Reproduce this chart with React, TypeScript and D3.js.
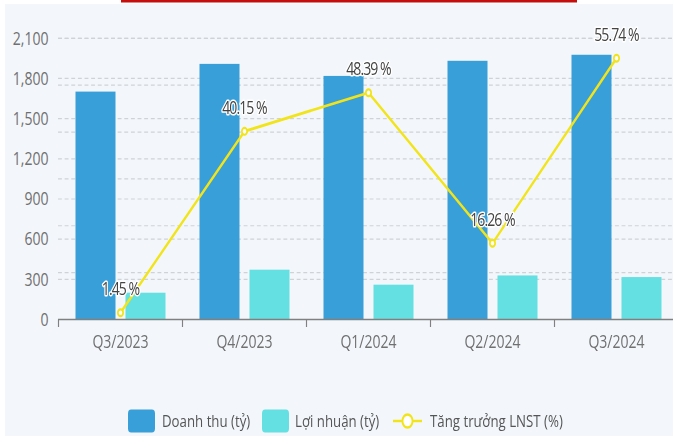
import React from "react";
import * as d3 from "d3";

const categories = ["Q3/2023", "Q4/2023", "Q1/2024", "Q2/2024", "Q3/2024"];
const revenue = [1702, 1909, 1819, 1932, 1977];
const profit = [200, 372, 260, 329, 317];
const growth = [1.45, 40.15, 48.39, 16.26, 55.74];
const leftTicks = [0, 300, 600, 900, 1200, 1500, 1800, 2100];
const rightTicks = [10, 20, 30, 40, 50, 60];
const legendLabels = ["Doanh thu (tỷ)", "Lợi nhuận (tỷ)", "Tăng trưởng LNST (%)"];

const W = 673;
const H = 436;
const S = 0.78; // horizontal squeeze of the original picture
const VW = W / S;
const vx = (x: number) => x / S;

const BLUE = "#389fd8";
const CYAN = "#64e0e2";
const YELLOW = "#f2e41a";
const BG = "#f3f7fb";
const FONT = "'Open Sans', sans-serif";

export default function App() {
  const x = d3.scaleBand<string>().domain(categories).range([vx(58.5), vx(678.5)]).padding(0);
  const inner = d3
    .scaleBand<string>()
    .domain(["rev", "profit"])
    .range([0, x.bandwidth()])
    .paddingInner(0.2)
    .paddingOuter(0.34);
  const y = d3.scaleLinear().domain([0, 2100]).range([319.5, 38.3]);
  const y2 = d3.scaleLinear().domain([0, 60]).range([319.5, 38.3]);

  const line = d3
    .line<number>()
    .x((_, i) => (x(categories[i]) as number) + x.bandwidth() / 2)
    .y((d) => y2(d));

  const gridX0 = vx(58);
  const gridX1 = VW;

  const legendItems = [
    { sw: vx(128), tx: vx(162), type: "rect", color: BLUE },
    { sw: vx(262), tx: vx(295), type: "rect", color: CYAN },
    { sw: vx(393), tx: vx(430), type: "line", color: YELLOW },
  ];

  return (
    <svg
      width={W}
      height={H}
      viewBox={`0 0 ${VW} ${H}`}
      preserveAspectRatio="none"
      style={{ position: "fixed", left: 0, top: 0, display: "block" }}
    >
      <rect x={0} y={0} width={VW} height={H} fill="#ffffff" />
      <rect x={vx(5)} y={4} width={VW} height={H} fill={BG} />
      <rect x={vx(121)} y={0} width={vx(577) - vx(121)} height={2.5} fill="#c40d0d" />

      {/* gridlines */}
      {leftTicks.slice(1).map((t) => (
        <line
          key={"g" + t}
          x1={gridX0}
          x2={gridX1}
          y1={y(t)}
          y2={y(t)}
          stroke="#cfd2d6"
          strokeWidth={1.2}
          strokeDasharray="5,3.5"
        />
      ))}
      {rightTicks.map((t) => (
        <line
          key={"g2" + t}
          x1={gridX0}
          x2={gridX1}
          y1={y2(t)}
          y2={y2(t)}
          stroke="#cfd2d6"
          strokeWidth={1.2}
          strokeDasharray="5,3.5"
        />
      ))}

      {/* y axis labels */}
      {leftTicks.map((t) => (
        <text
          key={"yl" + t}
          x={vx(48.5)}
          y={y(t)}
          dy="0.35em"
          textAnchor="end"
          fontFamily={FONT}
          fontSize={18}
          fill="#707070"
        >
          {d3.format(",")(t)}
        </text>
      ))}

      {/* bars */}
      {categories.map((c, i) => (
        <g key={"b" + c} transform={`translate(${x(c)},0)`}>
          <rect
            x={inner("rev")}
            y={y(revenue[i])}
            width={inner.bandwidth()}
            height={y(0) - y(revenue[i])}
            fill={BLUE}
          />
          <rect
            x={inner("profit")}
            y={y(profit[i])}
            width={inner.bandwidth()}
            height={y(0) - y(profit[i])}
            fill={CYAN}
          />
        </g>
      ))}

      {/* x axis */}
      <line x1={gridX0} x2={gridX1} y1={319.5} y2={319.5} stroke="#808080" strokeWidth={1.5} />
      {categories.map((c) => (
        <line
          key={"t" + c}
          x1={x(c) as number}
          x2={x(c) as number}
          y1={319.5}
          y2={327}
          stroke="#808080"
          strokeWidth={1.5}
        />
      ))}
      {categories.map((c) => (
        <text
          key={"xl" + c}
          x={(x(c) as number) + x.bandwidth() / 2}
          y={341.5}
          dy="0.35em"
          textAnchor="middle"
          fontFamily={FONT}
          fontSize={18}
          fill="#707070"
        >
          {c}
        </text>
      ))}

      {/* growth line */}
      <path d={line(growth) || ""} fill="none" stroke={YELLOW} strokeWidth={2.8} />
      {growth.map((g, i) => (
        <circle
          key={"p" + i}
          cx={(x(categories[i]) as number) + x.bandwidth() / 2}
          cy={y2(g)}
          r={3.4}
          fill="#ffffff"
          stroke={YELLOW}
          strokeWidth={2.2}
        />
      ))}
      {growth.map((g, i) => (
        <text
          key={"lb" + i}
          x={(x(categories[i]) as number) + x.bandwidth() / 2}
          y={y2(g) - 24}
          dy="0.35em"
          textAnchor="middle"
          fontFamily={FONT}
          fontSize={18}
          letterSpacing={-1.2}
          fill="#444444"
          stroke="#ffffff"
          strokeWidth={3}
          paintOrder="stroke"
          strokeLinejoin="round"
        >
          {d3.format(".2f")(g) + " %"}
        </text>
      ))}

      {/* legend */}
      {legendItems.map((it, i) => (
        <g key={"lg" + i}>
          {it.type === "rect" ? (
            <rect x={it.sw} y={409.5} width={vx(27)} height={23} rx={4} fill={it.color} />
          ) : (
            <g>
              <line
                x1={it.sw}
                x2={it.sw + vx(29)}
                y1={421}
                y2={421}
                stroke={it.color}
                strokeWidth={2.5}
              />
              <circle
                cx={it.sw + vx(14.5)}
                cy={421}
                r={6.5}
                fill="#ffffff"
                stroke={it.color}
                strokeWidth={2.5}
              />
            </g>
          )}
          <text
            x={it.tx}
            y={421}
            dy="0.35em"
            fontFamily={FONT}
            fontSize={17}
            fill="#555555"
          >
            {legendLabels[i]}
          </text>
        </g>
      ))}
    </svg>
  );
}
